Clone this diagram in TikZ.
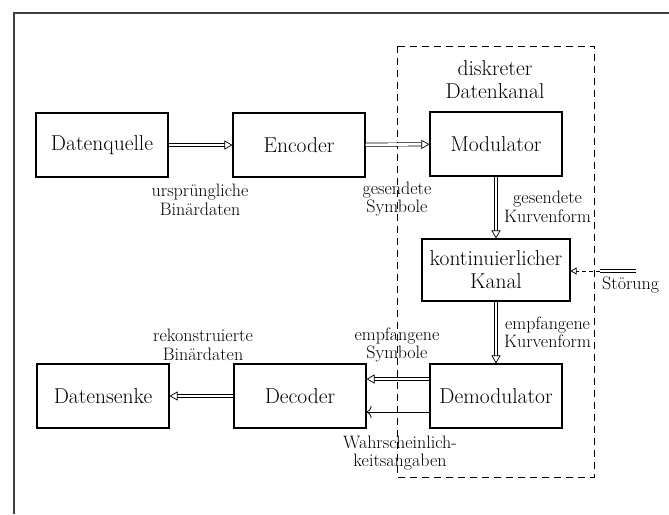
\documentclass[tikz,border=0pt]{standalone}
\usetikzlibrary{arrows.meta}
\begin{document}
\begin{tikzpicture}[x=1pt,y=-1pt,
  box/.style={draw, line width=1.1pt, minimum width=132pt, minimum height=64pt, inner sep=0pt, font=\fontsize{21.5}{23}\selectfont, align=center},
  lbl/.style={font=\fontsize{18}{18.5}\selectfont, align=center, inner sep=0pt},
  big/.style={font=\fontsize{21.5}{23}\selectfont, align=center, inner sep=0pt},
  dbl/.style={double distance=2.6pt, line width=0.7pt, -{Triangle[open,length=8pt,width=9pt]}},
  sgl/.style={line width=0.8pt, -{To[length=5pt,width=12pt]}},
  frame/.style={line width=1.4pt, draw=black!75},
  dash box/.style={line width=1pt, dash pattern=on 7pt off 5pt}
]
\useasboundingbox (0,0) rectangle (669,514);
% outer frame
\coordinate (fbl) at (14,514);
\coordinate (ftl) at (14,13);
\coordinate (ftr) at (669,13);
\draw[frame] (fbl) -- (ftl) -- (ftr);
% dashed box
\coordinate (dtl) at (397,46);
\coordinate (dbr) at (594,477);
\draw[dash box] (dtl) rectangle (dbr);
% boxes
\node[box] (dq) at (102,145) {Datenquelle};
\node[box] (enc) at (299,145) {Encoder};
\node[box] (mod) at (496,144) {Modulator};
\node[box, minimum width=148pt, minimum height=62pt] (kan) at (496,270) {kontinuierlicher\\Kanal};
\node[box] (dem) at (496,396) {Demodulator};
\node[box] (dec) at (300,396) {Decoder};
\node[box] (ds) at (103,396) {Datensenke};
% title
\node[big] (title) at (495,80) {diskreter\\Datenkanal};
% labels
\node[lbl] (l1) at (200,200) {urspr\"ungliche\\Bin\"ardaten};
\node[lbl] (l2) at (397,199) {gesendete\\Symbole};
\node[lbl, anchor=west] (l3) at (504,207) {gesendete\\Kurvenform};
\node[lbl, anchor=west] (l4) at (602,285) {St\"orung};
\node[lbl, anchor=west] (l5) at (504,332) {empfangene\\Kurvenform};
\node[lbl] (l6) at (203,345) {rekonstruierte\\Bin\"ardaten};
\node[lbl] (l7) at (397,345) {empfangene\\Symbole};
\node[lbl] (l8) at (400,453) {Wahrscheinlich-\\keitsangaben};
% connectors
\draw[dbl] (dq) -- (enc);
\draw[dbl] (enc) -- (mod);
\draw[dbl] (mod) -- (kan);
\draw[dbl] (kan) -- (dem);
\draw[dbl] (dec) -- (ds);
\coordinate (yu) at (0,379);
\coordinate (yl) at (0,412);
\draw[dbl] (dem.west |- yu) -- (dec.east |- yu);
\draw[sgl] (dem.west |- yl) -- (dec.east |- yl);
% Stoerung
\coordinate (s0) at (636,271);
\coordinate (s1) at (600,271);
\draw[double distance=2.6pt, line width=0.7pt] (s0) -- (s1);
\draw[line width=0.7pt, dash pattern=on 4pt off 3pt, -{Triangle[open,length=6pt,width=7pt]}] (s1) -- (kan.east |- s1);
\end{tikzpicture}
\end{document}
